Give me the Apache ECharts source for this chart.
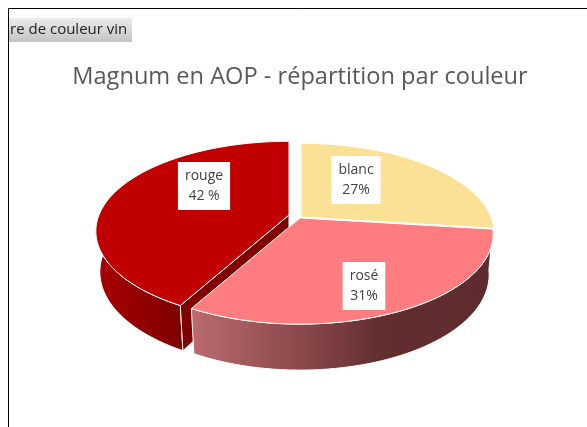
<!DOCTYPE html>
<html><head><meta charset="utf-8">
<style>html,body{margin:0;padding:0;background:#fff}#c{width:587px;height:427px;filter:blur(0.45px)}</style>
<script src="https://cdn.jsdelivr.net/npm/echarts@6/dist/echarts.min.js"></script>
</head><body><div id="c"></div>
<script>
const titleText = 'Magnum en AOP - répartition par couleur';
const fieldButton = 're de couleur vin';
const categories = ['blanc', 'rouge', 'rosé'];
const shares = [27, 42, 31];
// pie runs clockwise from 12 o'clock in this order
const pieOrder = ['blanc', 'rosé', 'rouge'];

const topColors = {blanc:'#fbe196', 'rosé':'#ff7c80', rouge:'#c00000'};
const wallColors = {'rosé':[[0,'#bb6a70'],[0.37,'#8a484a'],[0.63,'#622e30'],[1,'#5e2c2e']], rouge:[[0,'#a80000'],[1,'#7e0000']]};
const cutColor = {rouge:'#800000'};
const explode = {blanc:[3,-1], 'rosé':[2,0], rouge:[-9,-3]};
const labelAt = {blanc:[356,180], 'rosé':[364,286], rouge:[204,186]};
const labelPad = {blanc:[4,7], 'rosé':[4,7], rouge:[4,7]};
const labelGap = {rouge:' '};

const C = {x:298, y:218, B:190, A:87, k:0.18, D:40, shrink:0.02};
const total = shares.reduce((a,b)=>a+b,0);
const ranges = {};
let run = 0;
pieOrder.forEach(n => { const s = shares[categories.indexOf(n)]; ranges[n] = [run/total*360, (run+s)/total*360]; run += s; });

function proj(a, r, z, off) {
  const t = a*Math.PI/180, s = r*(1-C.shrink*z), u = s*Math.sin(t), v = s*Math.cos(t), f = 1/(1+C.k*v);
  return [C.x + off[0] + C.B*u*f, C.y + off[1] - C.A*v*f + z*C.D*f];
}
function arc(a0, a1, z, off) {
  const n = Math.max(2, Math.ceil((a1-a0)/2)), p = [];
  for (let i=0;i<=n;i++) p.push(proj(a0+(a1-a0)*i/n, 1, z, off));
  return p;
}
function grad(stops){
  return {type:'linear',x:0,y:0,x2:1,y2:0,colorStops:stops.map(s=>({offset:s[0],color:s[1]}))};
}
const edge = {stroke:'#fff', lineWidth:1};

function renderItem(params, api) {
  const name = categories[api.value(0)];
  const [a0,a1] = ranges[name], off = explode[name], kids = [];
  const w0 = Math.max(a0,90), w1 = Math.min(a1,270);
  if (w1 > w0 && wallColors[name]) {
    const pts = arc(w0,w1,0,off).concat(arc(w0,w1,1,off).reverse());
    kids.push({type:'polygon',shape:{points:pts},style:Object.assign({fill:grad(wallColors[name])},edge)});
  }
  if (cutColor[name]) {
    kids.push({type:'polygon',shape:{points:[proj(a0,0,0,off),proj(a0,1,0,off),proj(a0,1,1,off),proj(a0,0,1,off)]},
      style:Object.assign({fill:cutColor[name]},edge)});
  }
  const top = [proj(a0,0,0,off)].concat(arc(a0,a1,0,off));
  kids.push({type:'polygon',shape:{points:top},style:Object.assign({fill:topColors[name]},edge)});
  return {type:'group',children:kids};
}

const labels = categories.map(n => {
  const pct = shares[categories.indexOf(n)];
  return {type:'text',x:labelAt[n][0],y:labelAt[n][1],z:20,
    style:{text:n+'\n'+pct+(labelGap[n]||'')+'%',x:0,y:0,align:'center',verticalAlign:'middle',
      font:'14px "Open Sans"',fill:'#404040',lineHeight:20,backgroundColor:'#fff',padding:labelPad[n]}};
});

const chart = echarts.init(document.getElementById('c'),null,{renderer:'canvas',width:587,height:427});
chart.setOption({
  animation:false,
  title:{text:titleText,left:295,top:60,textAlign:'center',textStyle:{fontFamily:'Open Sans',fontSize:23.6,fontWeight:'normal',color:'#595959'}},
  graphic:[
    {type:'rect',shape:{x:9,y:18,width:123,height:24},z:5,style:{fill:{type:'linear',x:0,y:0,x2:0,y2:1,colorStops:[{offset:0,color:'#ececec'},{offset:1,color:'#c4c4c4'}]}}},
    {type:'text',x:10,y:22,z:6,style:{text:fieldButton,font:'15px "Open Sans"',fill:'#222'}},
    {type:'line',shape:{x1:8.5,y1:8.5,x2:587,y2:8.5},z:7,style:{stroke:'#000',lineWidth:1}},
    {type:'line',shape:{x1:8.5,y1:8.5,x2:8.5,y2:427},z:7,style:{stroke:'#000',lineWidth:1}}
  ].concat(labels),
  series:[{type:'custom',coordinateSystem:'none',renderItem,silent:true,
    data:['blanc','rouge','rosé'].map(n=>[categories.indexOf(n),shares[categories.indexOf(n)]])}]
});
</script></body></html>
